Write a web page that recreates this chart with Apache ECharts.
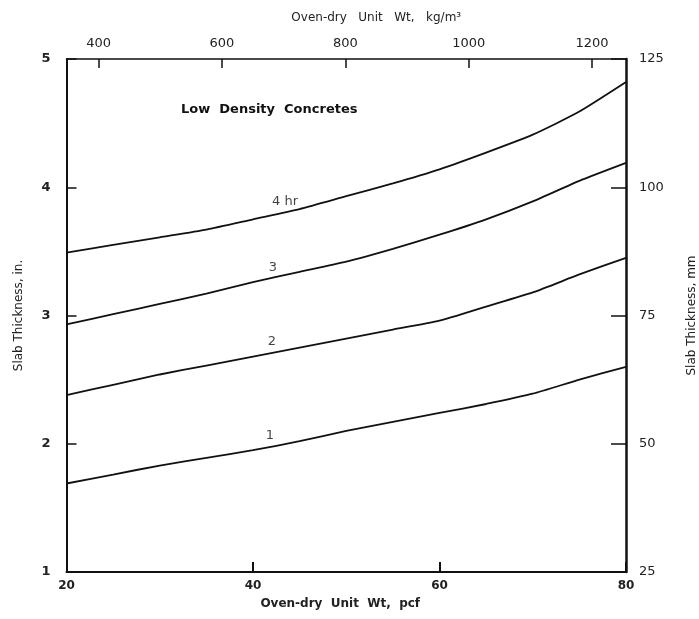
<!DOCTYPE html>
<html>
<head>
<meta charset="utf-8">
<script src="https://cdn.jsdelivr.net/npm/echarts@6/dist/echarts.min.js"></script>
<style>html,body{margin:0;padding:0;background:#fff}#c{width:699px;height:619px}</style>
</head>
<body>
<div id="c"></div>
<script>
// Data
const pcfValues = [20, 25, 30, 35, 40, 45, 50, 55, 60, 65, 70, 75, 80];
const hr1 = [1.69, 1.76, 1.83, 1.89, 1.95, 2.02, 2.10, 2.17, 2.24, 2.31, 2.39, 2.50, 2.60];
const hr2 = [2.38, 2.46, 2.54, 2.61, 2.68, 2.75, 2.82, 2.89, 2.96, 3.07, 3.18, 3.32, 3.45];
const hr3 = [2.93, 3.01, 3.09, 3.17, 3.26, 3.34, 3.42, 3.52, 3.63, 3.75, 3.89, 4.05, 4.19];
const hr4 = [3.49, 3.55, 3.61, 3.67, 3.75, 3.83, 3.93, 4.03, 4.14, 4.27, 4.41, 4.59, 4.82];
const curveNames = ['1', '2', '3', '4 hr'];
const kgTicks = [400, 600, 800, 1000, 1200];
const inTicks = [1, 2, 3, 4, 5];
const mmTicks = [25, 50, 75, 100, 125];

const curves = [hr1, hr2, hr3, hr4];
const labelIndex = 4;
const labelOffsets = [[17, 0], [19, 0], [20, 0], [32, -3]];
const ink = '#111';
const font = 'DejaVu Sans';

const lineSeries = curves.map((vals, i) => ({
  type: 'line',
  name: curveNames[i],
  smooth: 0.2,
  showSymbol: false,
  symbol: 'none',
  xAxisIndex: 0,
  yAxisIndex: 0,
  lineStyle: { color: ink, width: 1.8 },
  data: pcfValues.map((x, j) => [x, vals[j]]),
  z: 3
}));

const labelSeries = curves.map((vals, i) => ({
  type: 'scatter',
  xAxisIndex: 0,
  yAxisIndex: 0,
  symbolSize: 1,
  itemStyle: { color: 'rgba(0,0,0,0)' },
  silent: true,
  data: [[pcfValues[labelIndex], vals[labelIndex]]],
  label: {
    show: true,
    position: 'top',
    distance: 8,
    offset: labelOffsets[i],
    formatter: curveNames[i],
    color: ink,
    fontFamily: font,
    fontSize: 13
  },
  z: 4
}));

const chart = echarts.init(document.getElementById('c'), null, { renderer: 'canvas' });
chart.setOption({
  animation: false,
  backgroundColor: '#fff',
  title: {
    text: 'Low  Density  Concretes',
    left: 176,
    top: 98,
    textStyle: { fontFamily: font, fontSize: 13, fontWeight: 'bold', color: ink }
  },
  grid: { left: 66.5, right: 73, top: 59, bottom: 47, containLabel: false, outerBoundsMode: 'none' },
  xAxis: [
    {
      type: 'value', position: 'bottom', min: 20, max: 80, interval: 20,
      axisLine: { show: true, onZero: false, lineStyle: { color: ink, width: 2 } },
      axisTick: { show: true, inside: true, length: 10, lineStyle: { color: ink, width: 2 } },
      axisLabel: { margin: 8, color: '#222', fontFamily: font, fontSize: 12, fontWeight: 'bold' },
      splitLine: { show: false },
      name: 'Oven-dry  Unit  Wt,  pcf', nameLocation: 'middle', nameGap: 26,
      nameTextStyle: { color: '#222', fontFamily: font, fontSize: 12, fontWeight: 'bold', padding: [0, 12, 0, 0] }
    },
    {
      type: 'value', position: 'top', min: 348, max: 1255,
      axisLine: { show: true, onZero: false, lineStyle: { color: ink, width: 1.5 } },
      axisTick: { show: true, inside: true, length: 9, customValues: kgTicks, lineStyle: { color: ink, width: 1.5 } },
      axisLabel: { margin: 9, customValues: kgTicks, color: '#222', fontFamily: font, fontSize: 13,
        formatter: v => String(v) },
      splitLine: { show: false },
      name: 'Oven-dry   Unit   Wt,   kg/m³', nameLocation: 'middle', nameGap: 35,
      nameTextStyle: { color: '#222', fontFamily: font, fontSize: 12, padding: [0, 0, 0, 60] }
    }
  ],
  yAxis: [
    {
      type: 'value', position: 'left', min: 1, max: 5, interval: 1,
      axisLine: { show: true, onZero: false, lineStyle: { color: ink, width: 2 } },
      axisTick: { show: true, inside: true, length: 10, lineStyle: { color: ink, width: 1.5 } },
      axisLabel: { margin: 16, color: '#222', fontFamily: font, fontSize: 13, fontWeight: 'bold',
        formatter: v => inTicks.includes(v) ? String(v) : '' },
      splitLine: { show: false },
      name: 'Slab Thickness, in.', nameLocation: 'middle', nameGap: 42,
      nameTextStyle: { color: '#222', fontFamily: font, fontSize: 12 }
    },
    {
      type: 'value', position: 'right', min: 25, max: 125, interval: 25,
      axisLine: { show: true, onZero: false, lineStyle: { color: ink, width: 2.5 } },
      axisTick: { show: true, inside: true, length: 15, lineStyle: { color: ink, width: 1.5 } },
      axisLabel: { margin: 13, color: '#222', fontFamily: font, fontSize: 13,
        formatter: v => mmTicks.includes(v) ? String(v) : '' },
      splitLine: { show: false },
      name: 'Slab Thickness, mm', nameLocation: 'middle', nameGap: 60, nameRotate: 90,
      nameTextStyle: { color: '#222', fontFamily: font, fontSize: 12 }
    }
  ],
  series: [...lineSeries, ...labelSeries]
});
</script>
</body>
</html>
